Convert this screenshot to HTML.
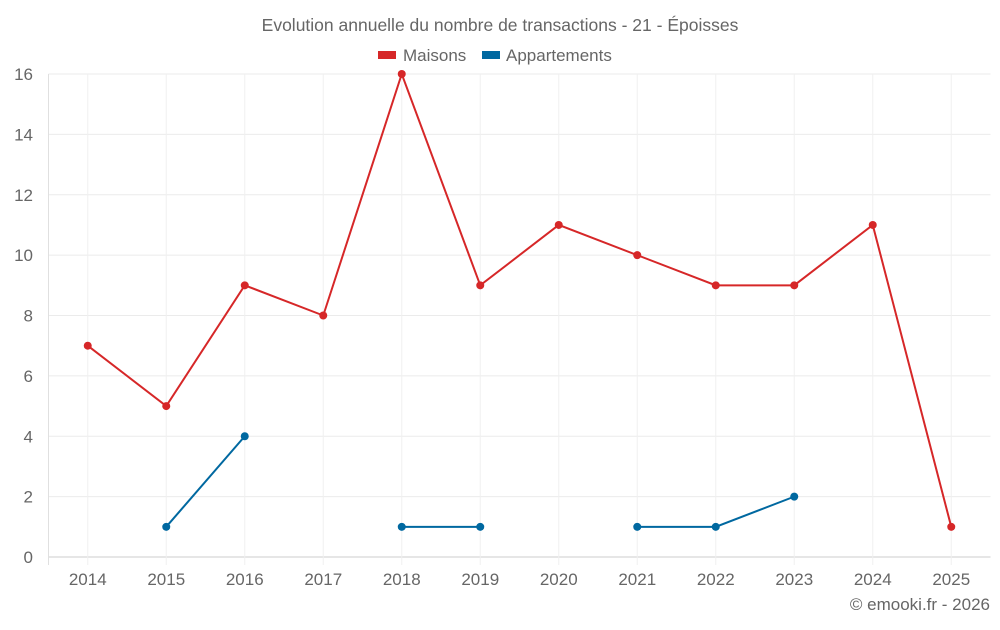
<!DOCTYPE html>
<html><head><meta charset="utf-8"><style>
body{margin:0;background:#fff;}
svg text{font-family:"Liberation Sans",sans-serif;fill:#666;}
</style></head><body>
<svg id="chart" width="1000" height="625">
<text x="500" y="31" text-anchor="middle" font-size="17.5">Evolution annuelle du nombre de transactions - 21 - Époisses</text>
<g>
<rect x="378" y="51" width="18" height="8" fill="#d62728"/>
<text x="403" y="61" font-size="17">Maisons</text>
<rect x="482" y="51" width="18" height="8" fill="#0068a0"/>
<text x="506" y="61" font-size="17">Appartements</text>
</g>
<g id="grid"></g><g id="axes"></g><g id="series"></g>
<text x="990" y="610" text-anchor="end" font-size="17">© emooki.fr - 2026</text>
</svg>
<script>
const categories=["2014","2015","2016","2017","2018","2019","2020","2021","2022","2023","2024","2025"];
const maisons=[7,5,9,8,16,9,11,10,9,9,11,1];
const appartements=[null,1,4,null,1,1,null,1,1,2,null,null];
const yTicks=[0,2,4,6,8,10,12,14,16];
const NS="http://www.w3.org/2000/svg";
const L=48.5,R=990.5,T=74,B=557,yMax=16;
const bw=(R-L)/categories.length;
function xs(i){return L+bw*(i+0.5);}
function ys(v){return B-(v/yMax)*(B-T);}
function mk(tag,attrs,parent){const e=document.createElementNS(NS,tag);for(const k in attrs)e.setAttribute(k,attrs[k]);parent.appendChild(e);return e;}
const grid=document.getElementById('grid'),axes=document.getElementById('axes'),ser=document.getElementById('series');
yTicks.forEach(t=>{
 const l=mk('line',{x1:L,x2:R,y1:ys(t),y2:ys(t),stroke:t===0?'#ccc':'#ebebeb','stroke-width':1},grid);
 
 
 const tx=mk('text',{x:33,y:ys(t)+6,'text-anchor':'end','font-size':17},axes);
 tx.textContent=t;
 
 
});
const ax=mk('line',{x1:L,x2:L,y1:T,y2:B+8,stroke:'#e0e0e0'},grid);


categories.forEach((c,i)=>{
 const g=mk('line',{x1:xs(i),x2:xs(i),y1:T,y2:B+8,stroke:'#f0f0f0'},grid);
 
 
 const tx=mk('text',{x:xs(i),y:585,'text-anchor':'middle','font-size':17},axes);
 tx.textContent=c;
 
 
});
function drawSeries(data,color,name){
 let segs=[],cur=[];
 data.forEach((v,i)=>{if(v===null){if(cur.length)segs.push(cur);cur=[];}else cur.push([xs(i),ys(v)]);});
 if(cur.length)segs.push(cur);
 segs.forEach(s=>{
  const p=mk('polyline',{points:s.map(q=>q.join(',')).join(' '),fill:'none',stroke:color,'stroke-width':2},ser);
  
  
 });
 data.forEach((v,i)=>{if(v===null)return;
  const c=mk('circle',{cx:xs(i),cy:ys(v),r:4,fill:color},ser);
  
  
 });
}
drawSeries(maisons,'#d62728','maisons');
drawSeries(appartements,'#0068a0','appartements');
</script>
</body></html>
